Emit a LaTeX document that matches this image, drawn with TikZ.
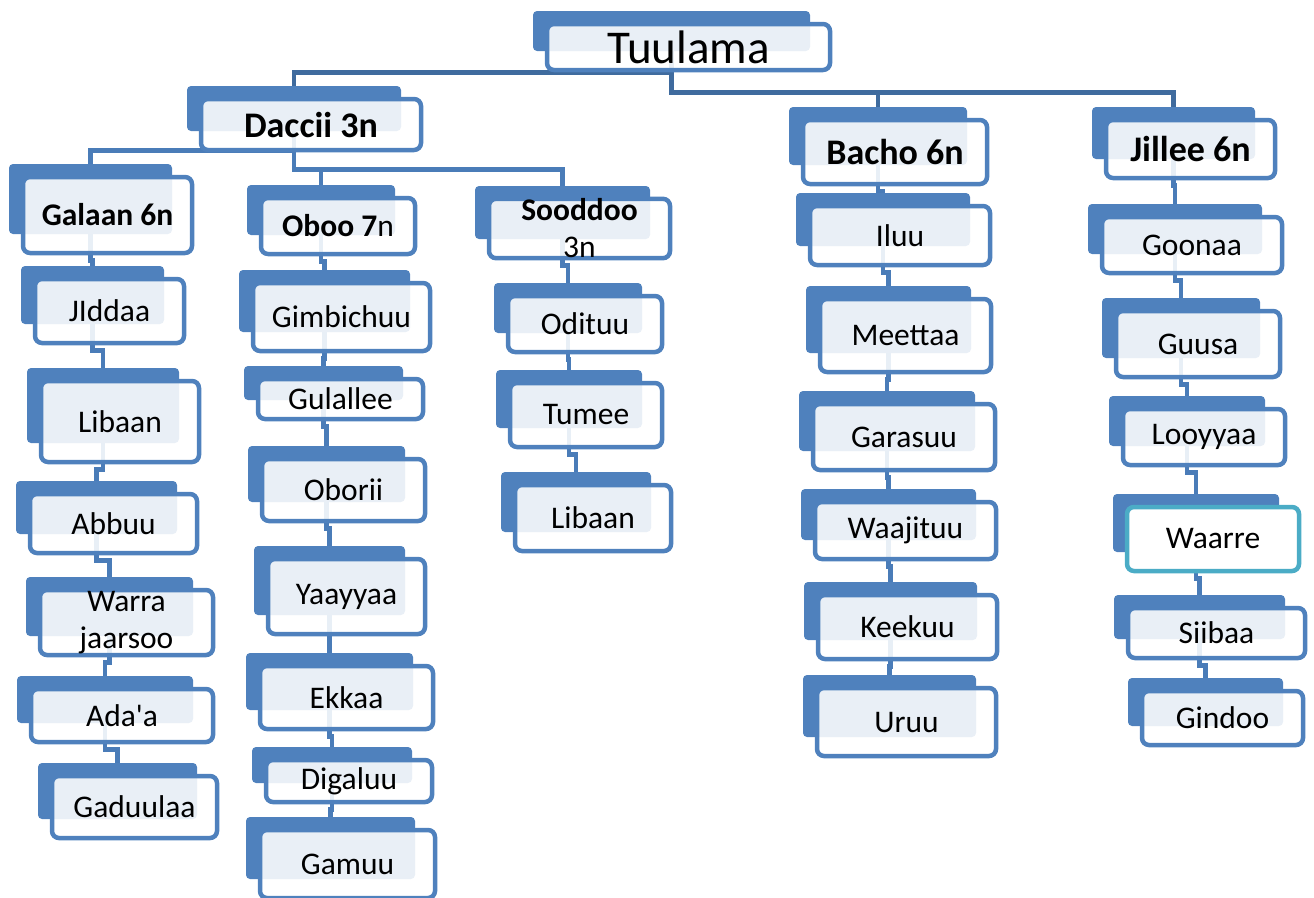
\documentclass[tikz,border=0pt]{standalone}
\usepackage{fontspec}
\setmainfont{Carlito}
\usepackage{tikz}

\definecolor{boxblue}{HTML}{4F81BD}
\definecolor{linkblue}{HTML}{4A7CB8}
\definecolor{trunkblue}{HTML}{3F6B9E}
\definecolor{selteal}{HTML}{4BACC6}

\pgfdeclarelayer{behind}
\pgfsetlayers{behind,main}

\newcommand{\hd}{\fontsize{36}{42}\selectfont\bfseries}

\tikzset{
	frontbox/.style={rectangle, rounded corners=7pt, draw=boxblue, line width=4.5pt,
		fill=white, fill opacity=0.88, text opacity=1, inner sep=0pt, align=center,
		font=\fontsize{31.5}{37}\selectfont},
	backbox/.style={rectangle, rounded corners=4pt, fill=boxblue, inner sep=0pt},
	link/.style={draw=linkblue, line width=4.5pt},
	trunk/.style={draw=trunkblue, line width=4.5pt}
}

\begin{document}
\begin{tikzpicture}[x=1pt,y=-1pt]
			\useasboundingbox (0,0) rectangle (1314,897);
			
			% boxes
			
			\foreach \n/\x/\y/\w/\h/\txt in {
				T/688.5/47/287/50/{\fontsize{47}{56}\selectfont Tuulama},
				D/311/124.5/224/55/{\hd Daccii 3n},
				B0/895/152/188/68/{\hd Bacho 6n},
				J0/1190.5/149/173/62/{\hd Jillee 6n},
				G0/107.5/215/173/80/{\bfseries Galaan 6n},
				O0/338/226/158/60/{\textbf{Oboo 7}n},
				S0/579.5/228.5/185/63/{\textbf{Sooddoo}\\3n},
				G1/109.5/311/153/68/JIddaa,
				G2/120/421.5/162/85/Libaan,
				G3/113.5/523.5/171/63/Abbuu,
				G4/126.5/622.5/177/69/{Warra\\jaarsoo},
				G5/122/715.5/186/57/{Ada\textquotesingle a},
				G6/134.5/807/169/66/Gaduulaa,
				O1/341.5/317/181/72/Gimbichuu,
				O2/340.5/399/169/44/Gulallee,
				O3/343.5/490/167/66/Oborii,
				O4/346.5/596.5/161/79/Yaayyaa,
				O5/346.5/697.5/177/67/Ekkaa,
				O6/349/781/170/46/Digaluu,
				O7/347.5/864/179/72/Gamuu,
				S1/585/324/158/60/Odituu,
				S2/586/415/156/68/Tumee,
				S3/593/518/160/70/Libaan,
				B1/900/235.5/184/63/Iluu,
				B2/905.5/335.5/175/77/Meettaa,
				B3/904/437/186/70/Garasuu,
				B4/905.5/530.5/185/61/Waajituu,
				B5/907.5/627/183/68/Keekuu,
				B6/906.5/722/183/72/Uruu,
				J1/1192/245/184/60/Goonaa,
				J2/1198/344/168/70/Guusa,
				J3/1204/437/166/60/Looyyaa,
				J5/1216.5/633/181/54/Siibaa,
				J6/1222.5/718/165/58/Gindoo} {
				\node[backbox, minimum width=\w-10, minimum height=\h-10] (b\n) at ({\x-17},{\y-16}) {};
				\node[frontbox, minimum width=\w-4, minimum height=\h-4] (\n) at (\x,\y) {\txt};
			}
			
			% selected one
			
			\node[backbox, minimum width=166, minimum height=58] (bJ4) at (1196,523) {};
			\node[frontbox, draw=selteal, fill opacity=1, minimum width=172, minimum height=64] (J4) at (1213,539) {Waarre};
			
			% links
			
			\begin{pgfonlayer}{behind}
				\draw[trunk] (bT) -- (bT |- T.south) -| (bD);
				\draw[trunk] (bT) -- (bT |- T.south) -- ++(0,20) -| (bB0);
				\draw[trunk] (bT) -- (bT |- T.south) -- ++(0,20) -| (bJ0);
				\draw[link] (bD) -- (bD |- D.south) -- ++(0,-2) -| (bG0);
				\draw[link] (bD) -- (bD |- D.south) -- ++(0,17) -| (bO0);
				\draw[link] (bD) -- (bD |- D.south) -- ++(0,17) -| (bS0);
				\foreach \col/\cnt in {G/6,O/7,S/3,B/6,J/6} {
					\foreach \i in {1,...,\cnt} {
						\pgfmathtruncatemacro{\j}{\i-1}
						\draw[link] (b\col\j) -- (b\col\j |- \col\j.south) -- ++(0,5) -| (b\col\i);
					}
				}
			\end{pgfonlayer}
		\end{tikzpicture}
\end{document}
